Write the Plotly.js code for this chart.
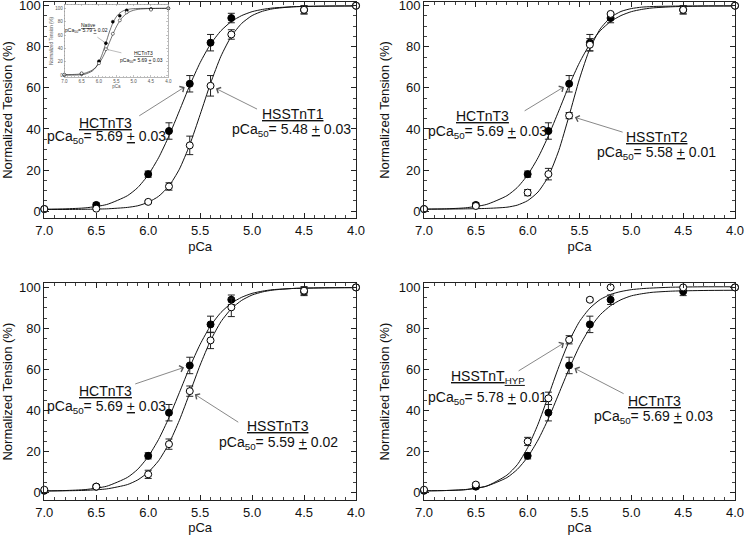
<!DOCTYPE html>
<html>
<head>
<meta charset="utf-8">
<script src="https://cdn.plot.ly/plotly-3.0.1.min.js"></script>
<style>
  html, body { margin: 0; padding: 0; background: #fff; }
  #chart { width: 745px; height: 539px; }
</style>
</head>
<body>
<div id="chart"></div>
<script>
// measured pCa steps
const pca = [7.0, 6.5, 6.0, 5.8, 5.6, 5.4, 5.2, 4.5, 4.0];

// normalized tension (%) with SEM
const hctnt3 = [1, 3, 18, 39, 62, 82, 94, 98, 100];
const hctnt3Err = [0.5, 1, 1.5, 4, 4, 4, 2.3, 2, 0];
const hsstnt1 = [1, 1.2, 4.5, 12, 32, 61, 86, 98, 100];
const hsstnt1Err = [0.5, 0.5, 0.7, 1.8, 4.5, 5, 2.3, 2, 0];
const hsstnt2 = [1, 2.5, 9, 18, 46.5, 81, 96, 98, 100];
const hsstnt2Err = [0.5, 1, 1.5, 2.8, 1.5, 3, 0.5, 2, 0];
const hsstnt3 = [1.5, 3, 9, 23.7, 49.5, 74.2, 90.3, 98.4, 100];
const hsstnt3Err = [0.5, 0.8, 2, 2.5, 2.5, 4, 4.5, 2, 0];
const hsstnthyp = [1.5, 4, 25, 46, 74.5, 94, 100, 100, 100];
const hsstnthypErr = [0.3, 0.8, 2, 3, 2, 0.8, 0.5, 0.5, 0];
const native = [0.5, 2, 21, 48, 80, 89, 97, 99, 100];

// fitted curves
const fitPca = [7.0, 6.8, 6.6, 6.4, 6.2, 6.1, 6.0, 5.9, 5.8, 5.7, 5.6, 5.5, 5.4, 5.3, 5.2, 5.1, 5.0, 4.9, 4.8, 4.6, 4.3, 4.0];
const fitHct = [0.9, 1.1, 1.6, 3.2, 7.5, 11.5, 17.6, 26, 36.6, 48.8, 61.2, 72.3, 81.3, 87.8, 92.3, 95.2, 97.1, 98.2, 98.9, 99.5, 99.8, 99.9];
const fitHct4 = [0.9, 1.1, 1.6, 3.2, 7.4, 11.4, 17.4, 25.7, 36.1, 48.2, 60.4, 71.4, 80.2, 86.7, 91.1, 94.0, 95.9, 96.9, 97.6, 98.2, 98.5, 98.6];
const fitHss1 = [0.8, 0.8, 0.9, 1.1, 1.8, 2.6, 4.3, 7.2, 12.2, 20.4, 32.3, 47, 62.2, 75.4, 85.1, 91.4, 95.2, 97.3, 98.5, 99.5, 99.8, 99.9];
const fitHss2 = [1.0, 1.0, 1.1, 1.3, 1.9, 2.9, 5.1, 9.3, 16.9, 29.5, 46.5, 64.4, 79.1, 88.7, 94.3, 97.2, 98.6, 99.3, 99.6, 99.8, 99.9, 99.9];
const fitHss3 = [0.9, 1.0, 1.2, 1.9, 4.0, 6.3, 10, 15.6, 24, 35.3, 48.6, 62.2, 74.1, 83.3, 89.6, 93.7, 96.3, 97.8, 98.7, 99.5, 99.8, 99.9];
const fitHyp = [1.0, 1.1, 1.5, 3.2, 8.6, 13.7, 22, 33.4, 47.2, 61.3, 73.8, 83.4, 89.9, 94.1, 96.6, 98.0, 98.9, 99.4, 99.7, 100.1, 100.3, 100.3];
const fitNative = [0.3, 0.3, 0.5, 1.7, 6.1, 11.2, 19.8, 32.4, 48.3, 64.6, 78.1, 87.4, 93.1, 96.3, 98.1, 99, 99.5, 99.7, 99.8, 99.9, 100, 100];

const W = 745, H = 539;
const px = (x, y) => ({ x: x / W, y: 1 - y / H });

function curve(y, ax, w) {
    return {
        x: fitPca, y: y, xaxis: 'x' + ax, yaxis: 'y' + ax,
        type: 'scatter', mode: 'lines',
        line: { color: '#111', width: w || 1, shape: 'spline', smoothing: 0.6 },
        hoverinfo: 'skip', cliponaxis: false
    };
}

function points(y, err, ax, filled, size) {
    return {
        x: pca, y: y, xaxis: 'x' + ax, yaxis: 'y' + ax,
        type: 'scatter', mode: 'markers', cliponaxis: false,
        marker: {
            size: size || 7,
            color: filled ? '#000' : '#fff',
            line: { color: '#000', width: size ? 0.5 : 1 }
        },
        error_y: err ? { type: 'data', array: err, color: '#222', thickness: 1, width: 3.5 } : { visible: false }
    };
}

const traces = [
    // panel 1
    curve(fitHct, ''), curve(fitHss1, ''),
    points(hctnt3, hctnt3Err, '', true), points(hsstnt1, hsstnt1Err, '', false),
    // panel 2
    curve(fitHct, '2'), curve(fitHss2, '2'),
    points(hctnt3, hctnt3Err, '2', true), points(hsstnt2, hsstnt2Err, '2', false),
    // panel 3
    curve(fitHct, '3'), curve(fitHss3, '3'),
    points(hctnt3, hctnt3Err, '3', true), points(hsstnt3, hsstnt3Err, '3', false),
    // panel 4
    curve(fitHct4, '4'), curve(fitHyp, '4'),
    points(hctnt3, hctnt3Err, '4', true), points(hsstnthyp, hsstnthypErr, '4', false),
    // inset
    curve(fitNative, '5', 0.6), curve(fitHct, '5', 0.6),
    points(native, null, '5', true, 3), points(hctnt3, null, '5', false, 3)
];
traces.forEach(t => { t.showlegend = false; });

function xAxis(domain, anchor, small) {
    const f = small ? 4.5 : 13;
    return {
        domain: domain, anchor: anchor,
        range: [7, 4], tick0: 4, dtick: 0.5, tickformat: '.1f',
        ticks: 'inside', ticklen: small ? 2 : 5, tickwidth: small ? 0.5 : 1, tickcolor: small ? '#888' : '#222',
        mirror: 'ticks', showline: true, linecolor: small ? '#888' : '#222', linewidth: small ? 0.6 : 1,
        minor: { ticks: 'inside', dtick: 0.1, ticklen: small ? 1 : 3, tickcolor: small ? '#888' : '#444' },
        showgrid: false, zeroline: false, automargin: false, ticklabeloverflow: 'allow',
        tickfont: { size: f, color: small ? '#555' : '#111' },
        title: { text: 'pCa', font: { size: f, color: small ? '#555' : '#111' }, standoff: small ? 1 : 4 }
    };
}

function yAxis(domain, anchor, small) {
    const f = small ? 4.5 : 13;
    return {
        domain: domain, anchor: anchor,
        range: small ? [-3, 106] : [-3.5, 102], tick0: 0, dtick: 20,
        ticks: 'inside', ticklen: small ? 2 : 5, tickwidth: small ? 0.5 : 1, tickcolor: small ? '#888' : '#222',
        mirror: 'ticks', showline: true, linecolor: small ? '#888' : '#222', linewidth: small ? 0.6 : 1,
        minor: { ticks: 'inside', dtick: 5, ticklen: small ? 1 : 3, tickcolor: small ? '#888' : '#444' },
        showgrid: false, zeroline: false, automargin: false, ticklabeloverflow: 'allow',
        tickfont: { size: f, color: small ? '#555' : '#111' },
        title: { text: 'Normalized Tension (%)', font: { size: f, color: small ? '#555' : '#111' }, standoff: small ? 1 : 6 }
    };
}

const colL = [44.3 / W, 356 / W], colR = [424 / W, 735 / W];
const rowT = [1 - 218.3 / H, 1 - 1.6 / H], rowB = [1 - 500 / H, 1 - 283.3 / H];

const annotations = [];

function label(x, y, text, size) {
    const p = px(x, y);
    annotations.push({
        xref: 'paper', yref: 'paper', x: p.x, y: p.y,
        xanchor: 'center', yanchor: 'middle', showarrow: false,
        text: text, font: { family: 'Liberation Sans, Arial, sans-serif', size: size || 14, color: '#111' }
    });
}

function arrow(ax, x, y, dx, dy, small) {
    annotations.push({
        xref: 'x' + ax, yref: 'y' + ax, x: x, y: y, ax: dx, ay: dy,
        text: '', showarrow: true, arrowhead: 4, arrowsize: small ? 0.6 : 1.8,
        arrowwidth: small ? 0.4 : 0.7, arrowcolor: '#555', standoff: small ? 2 : 6
    });
}

// panel 1
label(105.8, 122.5, '<u>HCTnT3</u>');
label(106.7, 137.5, 'pCa<sub>50</sub>= 5.69 <u>+</u> 0.03');
arrow('', 5.6, 62, -52, 33);
label(293, 114.5, '<u>HSSTnT1</u>');
label(291.7, 129.5, 'pCa<sub>50</sub>= 5.48 <u>+</u> 0.03');
arrow('', 5.4, 61, 48, 24);

// panel 2
label(482.7, 116, '<u>HCTnT3</u>');
label(487.8, 131.7, 'pCa<sub>50</sub>= 5.69 <u>+</u> 0.03');
arrow('2', 5.6, 62, -46, 28);
label(657, 137, '<u>HSSTnT2</u>');
label(656.2, 153.3, 'pCa<sub>50</sub>= 5.58 <u>+</u> 0.01');
arrow('2', 5.6, 46.5, 55, 17);

// panel 3
label(105.8, 391, '<u>HCTnT3</u>');
label(106.7, 406.7, 'pCa<sub>50</sub>= 5.69 <u>+</u> 0.03');
arrow('3', 5.6, 62, -56, 19);
label(278.3, 426, '<u>HSSTnT3</u>');
label(278.3, 443.3, 'pCa<sub>50</sub>= 5.59 <u>+</u> 0.02');
arrow('3', 5.6, 49.5, 50, 32);

// panel 4
label(487.8, 377.3, '<u>HSSTnT<sub>HYP</sub></u>');
label(487.8, 398.3, 'pCa<sub>50</sub>= 5.78 <u>+</u> 0.01');
arrow('4', 5.6, 74.5, -52, 32);
label(654.5, 401, '<u>HCTnT3</u>');
label(653.7, 416.7, 'pCa<sub>50</sub>= 5.69 <u>+</u> 0.03');
arrow('4', 5.6, 62, 56, 29);

// inset
label(88.3, 25, '<u>Native</u>', 5);
label(86.7, 30.7, 'pCa<sub>50</sub>= 5.79 <u>+</u> 0.02', 5);
arrow('5', 5.8, 48, -10, -7, true);
label(143.3, 53.3, '<u>HCTnT3</u>', 5);
label(141.7, 60.7, 'pCa<sub>50</sub>= 5.69 <u>+</u> 0.03', 5);
arrow('5', 5.8, 39, 17, 4, true);

const layout = {
    width: W, height: H,
    margin: { l: 0, r: 0, t: 0, b: 0 },
    paper_bgcolor: '#fff', plot_bgcolor: '#fff',
    font: { family: 'Liberation Sans, Arial, sans-serif', size: 13, color: '#111' },
    showlegend: false,
    xaxis: xAxis(colL, 'y'), yaxis: yAxis(rowT, 'x'),
    xaxis2: xAxis(colR, 'y2'), yaxis2: yAxis(rowT, 'x2'),
    xaxis3: xAxis(colL, 'y3'), yaxis3: yAxis(rowB, 'x3'),
    xaxis4: xAxis(colR, 'y4'), yaxis4: yAxis(rowB, 'x4'),
    xaxis5: xAxis([64.3 / W, 168.3 / W], 'y5', true),
    yaxis5: yAxis([1 - 77.3 / H, 1 - 4.3 / H], 'x5', true),
    annotations: annotations
};

Plotly.newPlot('chart', traces, layout, { staticPlot: true, displayModeBar: false });
</script>
</body>
</html>
